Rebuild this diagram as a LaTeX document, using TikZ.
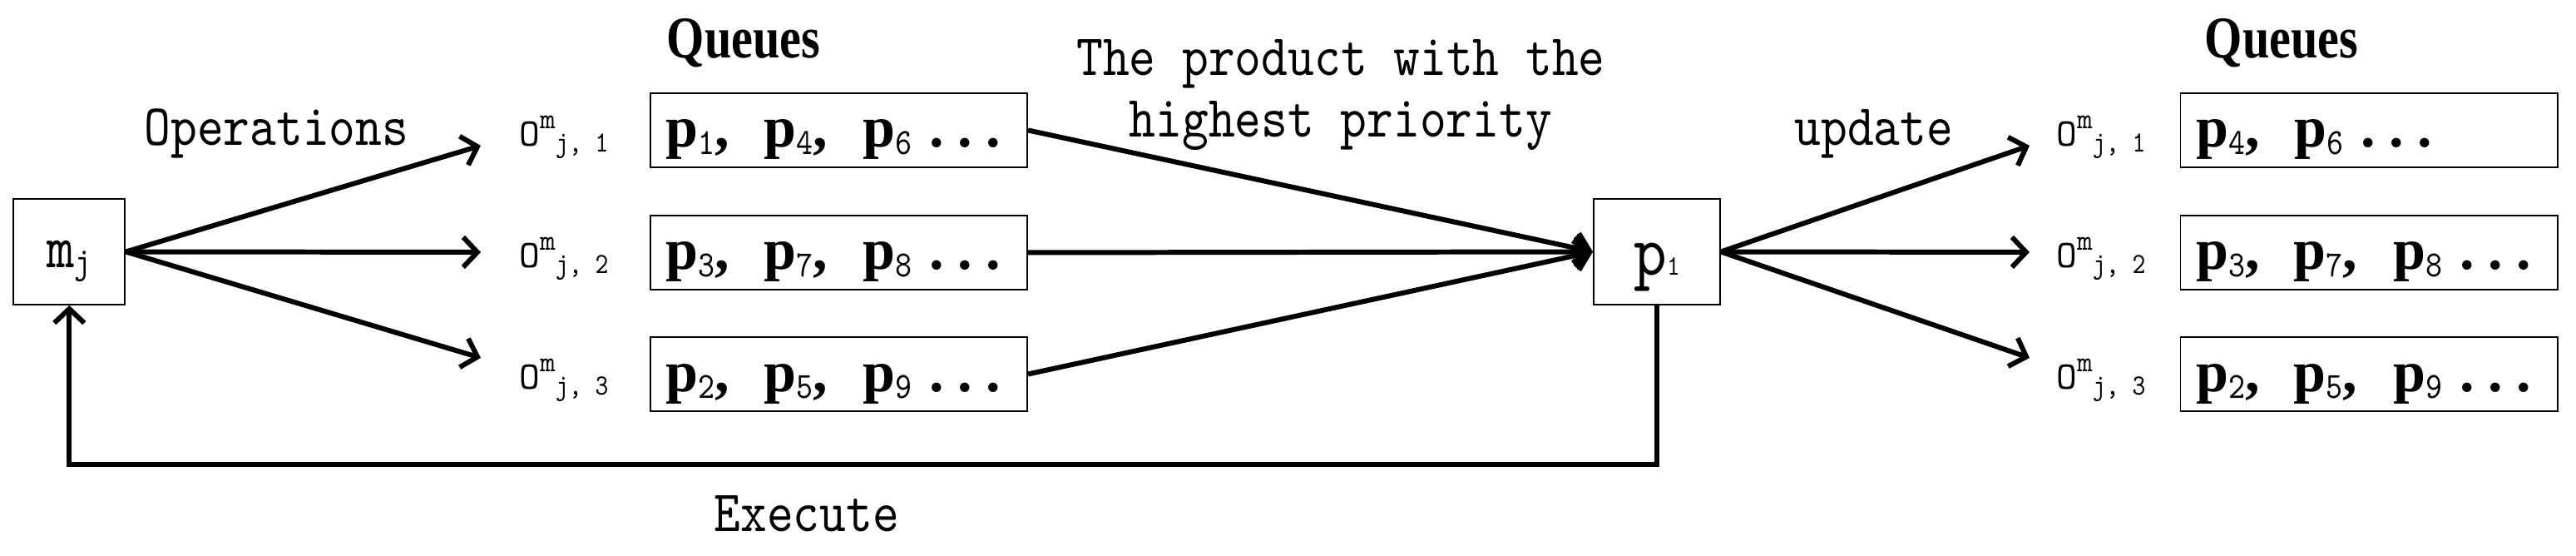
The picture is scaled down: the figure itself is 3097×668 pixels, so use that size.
\documentclass[tikz,border=0pt]{standalone}
\usepackage{fontspec}
\usepackage{tikz}
\usetikzlibrary{arrows.meta}
\newfontfamily\labelfont{lmmono10-regular}[Extension=.otf, FakeStretch=0.86]
\newfontfamily\opfont{lmmono10-regular}[Extension=.otf]
\newfontfamily\itemfont{Liberation Serif}
\newfontfamily\headfont[FakeStretch=0.82]{Liberation Serif}
\newcommand{\lbl}{\labelfont\fontsize{20}{21.05}\selectfont}
\newcommand{\qsub}[1]{\raisebox{-0.08cm}{\labelfont\fontsize{12.6}{12.6}\selectfont #1}}
\newcommand{\qp}[1]{\textbf{p}\qsub{#1}}
\newcommand{\qcomma}{\textbf{,}}
\newcommand{\qdots}{\hspace{0.21cm}\textbf{.}\hspace{0.165cm}\textbf{.}\hspace{0.165cm}\textbf{.}}
\newcommand{\opname}[1]{{\opfont O}\raisebox{0.21cm}{\opfont\fontsize{10}{10}\selectfont m}\raisebox{-0.07cm}{\fontsize{10}{10}\selectfont j, #1}}

\begin{document}
\begin{tikzpicture}[x=0.01cm, y=-0.01cm,
        box/.style={draw, line width=0.5pt, inner sep=0pt},
        qbox/.style={box, minimum width=4.53cm, minimum height=0.89cm, text width=4.15cm, inner xsep=0.19cm, align=left, text height=0.5cm, text depth=0.09cm, font=\itemfont\fontsize{19.9}{20}\selectfont},
        oplabel/.style={anchor=base west, inner sep=0pt, font=\labelfont\fontsize{13.4}{13.4}\selectfont},
        txt/.style={anchor=base west, inner sep=0pt, font=\lbl},
        head/.style={anchor=base west, inner sep=0pt, font=\headfont\bfseries\fontsize{20.2}{20}\selectfont},
        flow/.style={line width=1.7pt, -{Straight Barb[length=0.17cm,width=0.36cm]}}]
        \useasboundingbox (0,0) rectangle (3097,668);

        \node[box, minimum width=1.34cm, minimum height=1.27cm, text height=0.5cm, text depth=0.11cm, font=\labelfont\fontsize{21}{21}\selectfont] (mj) at (83.3,302.5) {m\raisebox{-0.06cm}{\fontsize{12.6}{12.6}\selectfont j}};
        \node[box, minimum width=1.52cm, minimum height=1.27cm, text height=0.65cm, text depth=0.1cm, font=\labelfont\fontsize{25}{25}\selectfont] (p1) at (1992,302.5) {p{\fontsize{9.6}{9.6}\selectfont 1}};

        % queues before the choice
        \node[qbox] (q1) at (1008.5,156.5) {\qp{1}\qcomma\hspace{0.41cm}\qp{4}\qcomma\hspace{0.43cm}\qp{6}\qdots};
        \node[qbox] (q2) at (1008.5,303.5) {\qp{3}\qcomma\hspace{0.41cm}\qp{7}\qcomma\hspace{0.43cm}\qp{8}\qdots};
        \node[qbox] (q3) at (1008.5,449.5) {\qp{2}\qcomma\hspace{0.41cm}\qp{5}\qcomma\hspace{0.43cm}\qp{9}\qdots};

        % queues after the update
        \node[qbox] (u1) at (2848,156.5) {\qp{4}\qcomma\hspace{0.42cm}\qp{6}\qdots};
        \node[qbox] (u2) at (2848,303.5) {\qp{3}\qcomma\hspace{0.41cm}\qp{7}\qcomma\hspace{0.43cm}\qp{8}\qdots};
        \node[qbox] (u3) at (2848,449.5) {\qp{2}\qcomma\hspace{0.41cm}\qp{5}\qcomma\hspace{0.43cm}\qp{9}\qdots};

        \node[oplabel] (l1) at (624,176) {\opname{1}};
        \node[oplabel] (l2) at (624,322) {\opname{2}};
        \node[oplabel] (l3) at (624,468) {\opname{3}};
        \node[oplabel] (r1) at (2472,176) {\opname{1}};
        \node[oplabel] (r2) at (2472,322) {\opname{2}};
        \node[oplabel] (r3) at (2472,468) {\opname{3}};

        \node[head] (hq) at (801,70) {Queues};
        \node[head] (hu) at (2650,70) {Queues};
        \node[txt] (ops) at (173,175) {Operations};
        \node[txt] (upd) at (2157,175) {update};
        \node[txt] (exe) at (858,639) {Execute};
        \node[font=\lbl, align=center, anchor=north, inner sep=0pt] (best) at (1612,47) {The product with the\\highest priority};

        \coordinate (op1) at (578,175);
        \coordinate (op2) at (578,303);
        \coordinate (op3) at (578,430);
        \coordinate (up1) at (2440,175);
        \coordinate (up2) at (2440,303);
        \coordinate (up3) at (2440,430);

        \draw[flow] (mj.east) -- (op1);
        \draw[flow] (mj.east) -- (op2);
        \draw[flow] (mj.east) -- (op3);

        \draw[flow] (q1.east) -- (p1.west);
        \draw[flow] (q2.east) -- (p1.west);
        \draw[flow] (q3.east) -- (p1.west);

        \draw[flow] (p1.east) -- (up1);
        \draw[flow] (p1.east) -- (up2);
        \draw[flow] (p1.east) -- (up3);

        % back to the machine
        \coordinate (low) at (0,558);
        \draw[flow] (p1.south) -- (p1.south |- low) -| (mj.south);
\end{tikzpicture}
\end{document}
